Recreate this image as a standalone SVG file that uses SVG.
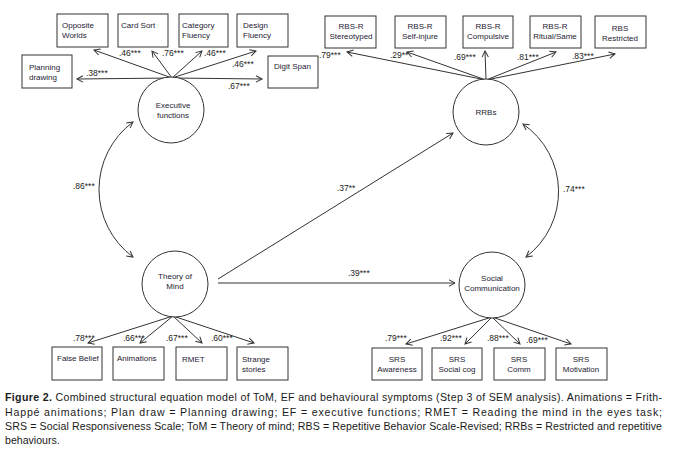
<svg xmlns="http://www.w3.org/2000/svg" width="673" height="456" viewBox="0 0 673 456">
<style>
.bx{fill:#fff;stroke:#333;stroke-width:1}
.lv{fill:#fff;stroke:#333;stroke-width:1}
.t{font-family:"Liberation Sans",Arial,sans-serif;font-size:8px;fill:#1e2233}
.c{text-anchor:middle}
.lb{font-family:"Liberation Sans",Arial,sans-serif;font-size:8.5px;fill:#222}
.ln{stroke:#333;stroke-width:1;fill:none}
.cap{font-family:"Liberation Sans",Arial,sans-serif;font-size:10.6px;fill:#1a1a1a}
</style>
<defs>
<marker id="ah" markerUnits="userSpaceOnUse" markerWidth="10" markerHeight="10" viewBox="-8 -5 10 10" refX="0" refY="0" orient="auto-start-reverse">
<path d="M-6,-3.2 L0,0 L-6,3.2" fill="none" stroke="#333" stroke-width="1"/>
</marker>
</defs>
<rect width="673" height="456" fill="#fff"/>

<g id="connectors">
<line class="ln" x1="172" y1="78" x2="94" y2="50" marker-end="url(#ah)"/>
<line class="ln" x1="172" y1="78" x2="152" y2="51" marker-end="url(#ah)"/>
<line class="ln" x1="172" y1="78" x2="202" y2="51" marker-end="url(#ah)"/>
<line class="ln" x1="172" y1="78" x2="256" y2="51" marker-end="url(#ah)"/>
<line class="ln" x1="172" y1="78" x2="77" y2="79" marker-end="url(#ah)"/>
<line class="ln" x1="172" y1="78" x2="262" y2="79" marker-end="url(#ah)"/>
<line class="ln" x1="486" y1="80" x2="347" y2="52" marker-end="url(#ah)"/>
<line class="ln" x1="486" y1="80" x2="407" y2="52" marker-end="url(#ah)"/>
<line class="ln" x1="486" y1="80" x2="485" y2="51" marker-end="url(#ah)"/>
<line class="ln" x1="486" y1="80" x2="556" y2="52" marker-end="url(#ah)"/>
<line class="ln" x1="486" y1="80" x2="615" y2="54" marker-end="url(#ah)"/>
<line class="ln" x1="173" y1="316" x2="88" y2="343" marker-end="url(#ah)"/>
<line class="ln" x1="173" y1="316" x2="140" y2="343" marker-end="url(#ah)"/>
<line class="ln" x1="173" y1="316" x2="202" y2="343" marker-end="url(#ah)"/>
<line class="ln" x1="173" y1="316" x2="254" y2="343" marker-end="url(#ah)"/>
<line class="ln" x1="492" y1="317" x2="406" y2="344" marker-end="url(#ah)"/>
<line class="ln" x1="492" y1="317" x2="465" y2="344" marker-end="url(#ah)"/>
<line class="ln" x1="492" y1="317" x2="520" y2="344" marker-end="url(#ah)"/>
<line class="ln" x1="492" y1="317" x2="571" y2="344" marker-end="url(#ah)"/>
<line class="ln" x1="218" y1="279" x2="453" y2="133" marker-end="url(#ah)"/>
<line class="ln" x1="218" y1="283" x2="455" y2="283" marker-end="url(#ah)"/>
<path class="ln" d="M133,122 A84,84 0 0 0 133,257" marker-start="url(#ah)" marker-end="url(#ah)"/>
<path class="ln" d="M523,124 A82,82 0 0 1 526,257" marker-start="url(#ah)" marker-end="url(#ah)"/>
</g>

<g id="labels">
<text class="lb" x="119" y="56">.46***</text>
<text class="lb" x="162" y="56">.76***</text>
<text class="lb" x="204" y="56">.46***</text>
<text class="lb" x="232" y="67">.46***</text>
<text class="lb" x="86" y="76">.38***</text>
<text class="lb" x="228" y="89">.67***</text>
<text class="lb" x="319" y="58">.79***</text>
<text class="lb" x="390" y="58">.29**</text>
<text class="lb" x="454" y="60">.69***</text>
<text class="lb" x="517" y="60">.81***</text>
<text class="lb" x="572" y="59">.83***</text>
<text class="lb" x="73" y="189">.86***</text>
<text class="lb" x="337" y="191">.37**</text>
<text class="lb" x="563" y="192">.74***</text>
<text class="lb" x="348" y="276">.39***</text>
<text class="lb" x="73" y="341">.78***</text>
<text class="lb" x="123" y="341">.66***</text>
<text class="lb" x="166" y="341">.67***</text>
<text class="lb" x="211" y="341">.60***</text>
<text class="lb" x="385" y="341">.79***</text>
<text class="lb" x="440" y="341">.92***</text>
<text class="lb" x="487" y="341">.88***</text>
<text class="lb" x="526" y="343">.69***</text>
</g>

<g id="ef">
<ellipse class="lv" cx="171" cy="110" rx="33" ry="33"/>
<text class="t c" x="173" y="108">Executive</text>
<text class="t c" x="173" y="118">functions</text>
</g>
<g id="tom">
<circle class="lv" cx="175" cy="284" r="33"/>
<text class="t c" x="175" y="279">Theory of</text>
<text class="t c" x="175" y="289">Mind</text>
</g>
<g id="rrbs">
<circle class="lv" cx="486" cy="112" r="33"/>
<text class="t c" x="486" y="115">RRBs</text>
</g>
<g id="socialcomm">
<circle class="lv" cx="492" cy="285" r="33"/>
<text class="t c" x="492" y="281">Social</text>
<text class="t c" x="492" y="291">Communication</text>
</g>

<g id="opposite-worlds"><rect class="bx" x="57" y="14" width="51" height="33"/><text class="t" x="62" y="28">Opposite</text><text class="t" x="62" y="38">Worlds</text></g>
<g id="card-sort"><rect class="bx" x="118" y="14" width="50" height="33"/><text class="t" x="121" y="28">Card Sort</text></g>
<g id="category-fluency"><rect class="bx" x="179" y="14" width="49" height="33"/><text class="t" x="182" y="28">Category</text><text class="t" x="182" y="38">Fluency</text></g>
<g id="design-fluency"><rect class="bx" x="237" y="14" width="51" height="33"/><text class="t" x="243" y="28">Design</text><text class="t" x="243" y="38">Fluency</text></g>
<g id="planning-drawing"><rect class="bx" x="22" y="55" width="50" height="33"/><text class="t" x="29" y="70">Planning</text><text class="t" x="29" y="80">drawing</text></g>
<g id="digit-span"><rect class="bx" x="268" y="56" width="50" height="32"/><text class="t" x="274" y="69">Digit Span</text></g>

<g id="rbs-stereotyped"><rect class="bx" x="325" y="16" width="51" height="32"/><text class="t c" x="351" y="29">RBS-R</text><text class="t c" x="351" y="39">Stereotyped</text></g>
<g id="rbs-self-injure"><rect class="bx" x="395" y="16" width="51" height="32"/><text class="t c" x="420" y="29">RBS-R</text><text class="t c" x="420" y="39">Self-injure</text></g>
<g id="rbs-compulsive"><rect class="bx" x="463" y="16" width="50" height="32"/><text class="t c" x="488" y="29">RBS-R</text><text class="t c" x="488" y="39">Compulsive</text></g>
<g id="rbs-ritual"><rect class="bx" x="530" y="16" width="51" height="32"/><text class="t c" x="555" y="29">RBS-R</text><text class="t c" x="555" y="39">Ritual/Same</text></g>
<g id="rbs-restricted"><rect class="bx" x="595" y="16" width="51" height="32"/><text class="t c" x="620" y="31">RBS</text><text class="t c" x="620" y="41">Restricted</text></g>

<g id="false-belief"><rect class="bx" x="52" y="347" width="50" height="33"/><text class="t" x="57" y="361">False Belief</text></g>
<g id="animations"><rect class="bx" x="113" y="347" width="51" height="33"/><text class="t" x="117" y="361">Animations</text></g>
<g id="rmet"><rect class="bx" x="176" y="347" width="51" height="33"/><text class="t" x="182" y="362">RMET</text></g>
<g id="strange-stories"><rect class="bx" x="237" y="347" width="51" height="33"/><text class="t" x="242" y="362">Strange</text><text class="t" x="242" y="372">stories</text></g>

<g id="srs-awareness"><rect class="bx" x="372" y="348" width="50" height="32"/><text class="t c" x="397" y="362">SRS</text><text class="t c" x="397" y="372">Awareness</text></g>
<g id="srs-social-cog"><rect class="bx" x="432" y="348" width="50" height="32"/><text class="t c" x="457" y="362">SRS</text><text class="t c" x="457" y="372">Social cog</text></g>
<g id="srs-comm"><rect class="bx" x="494" y="348" width="51" height="32"/><text class="t c" x="519" y="362">SRS</text><text class="t c" x="519" y="372">Comm</text></g>
<g id="srs-motivation"><rect class="bx" x="556" y="348" width="51" height="32"/><text class="t c" x="581" y="362">SRS</text><text class="t c" x="581" y="372">Motivation</text></g>

<g id="caption">
<text class="cap" x="5" y="401" textLength="657" lengthAdjust="spacing"><tspan font-weight="bold">Figure 2.</tspan>  Combined structural equation model of ToM, EF and behavioural symptoms (Step 3 of SEM analysis). Animations = Frith-</text>
<text class="cap" x="5" y="416" textLength="657" lengthAdjust="spacing">Happé animations; Plan draw = Planning drawing; EF = executive functions; RMET = Reading the mind in the eyes task;</text>
<text class="cap" x="5" y="430" textLength="657" lengthAdjust="spacing">SRS = Social Responsiveness Scale; ToM = Theory of mind; RBS = Repetitive Behavior Scale-Revised; RRBs = Restricted and repetitive</text>
<text class="cap" x="5" y="444">behaviours.</text>
</g>
</svg>
